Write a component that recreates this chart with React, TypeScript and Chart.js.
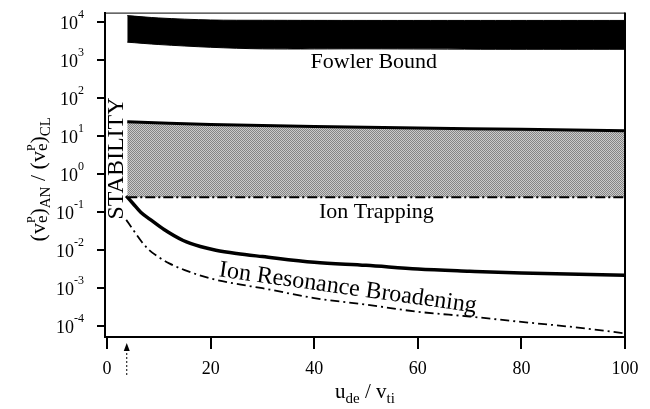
import React, { useEffect, useRef } from "react";
import { Chart, registerables } from "chart.js";

Chart.register(...registerables);

// ---- data ----
const fowlerX = [3.9, 10, 20, 30, 50, 75, 100];
const fowlerUpper = [15000, 13000, 11500, 11300, 11200, 11200, 11200];
const fowlerLower = [3000, 2600, 2200, 2000, 2000, 1950, 1950];

const trapX = [3.9, 20, 40, 60, 80, 100];
const trapUpper = [24, 20.5, 18, 16.5, 15.2, 14];
const trapLower = [0.25, 0.25, 0.25, 0.25, 0.25, 0.25];

const resX = [3.7, 5, 6.5, 8.3, 11, 14.7, 18, 21, 25, 30, 40, 50, 60, 70, 80, 100];
const resY = [0.27, 0.17, 0.1, 0.065, 0.035, 0.018, 0.0125, 0.01, 0.0082, 0.0068, 0.0048, 0.004, 0.0032, 0.0028, 0.0025, 0.0022];

const brX = [3.7, 5, 6.5, 8, 10, 12, 15, 20, 25, 30, 40, 50, 60, 70, 80, 90, 100];
const brY = [0.063, 0.035, 0.018, 0.0105, 0.0065, 0.0045, 0.003, 0.0018, 0.0013, 0.001, 0.00055, 0.00037, 0.00024, 0.00018, 0.00013, 0.000095, 0.000065];

const xTicks = [0, 20, 40, 60, 80, 100];
const yExps = [-4, -3, -2, -1, 0, 1, 2, 3, 4];
const stabilityX = 3.8;

const FONT = '"Liberation Serif", "Times New Roman", serif';

const pts = (xs: number[], ys: number[]) => xs.map((x, i) => ({ x, y: ys[i] }));

type Seg = { t: string; size: number; dy: number; noAdvance?: boolean };

function drawRich(ctx: CanvasRenderingContext2D, segs: Seg[], x: number, y: number) {
  let total = 0;
  for (const s of segs) {
    ctx.font = `${s.size}px ${FONT}`;
    if (!s.noAdvance) total += ctx.measureText(s.t).width;
  }
  let cx = x - total / 2;
  ctx.textAlign = "left";
  ctx.textBaseline = "alphabetic";
  for (const s of segs) {
    ctx.font = `${s.size}px ${FONT}`;
    ctx.fillText(s.t, cx, y + s.dy);
    if (!s.noAdvance) cx += ctx.measureText(s.t).width;
  }
}

const decorPlugin = {
  id: "decor",
  afterDraw(chart: any) {
    const ctx: CanvasRenderingContext2D = chart.ctx;
    const xs = chart.scales.x;
    const ys = chart.scales.y;
    const a = chart.chartArea;
    ctx.save();
    ctx.fillStyle = "#000";
    ctx.strokeStyle = "#000";

    // frame right and top
    ctx.lineWidth = 2;
    ctx.beginPath();
    ctx.moveTo(a.right, a.bottom + 1);
    ctx.lineTo(a.right, a.top);
    ctx.stroke();
    ctx.lineWidth = 1;
    ctx.beginPath();
    ctx.moveTo(a.left, a.top + 0.5);
    ctx.lineTo(a.right, a.top + 0.5);
    ctx.stroke();

    // y tick labels 10^n
    for (const e of yExps) {
      const py = ys.getPixelForValue(Math.pow(10, e));
      const exp = String(e);
      ctx.font = `12px ${FONT}`;
      const we = ctx.measureText(exp).width;
      ctx.font = `18px ${FONT}`;
      const wb = ctx.measureText("10").width;
      const right = a.left - 21;
      ctx.textAlign = "left";
      ctx.textBaseline = "alphabetic";
      ctx.fillText("10", right - we - wb, py + 7);
      ctx.font = `12px ${FONT}`;
      ctx.fillText(exp, right - we, py - 4);
    }

    // stability arrow (dotted)
    const ax = xs.getPixelForValue(stabilityX);
    ctx.lineWidth = 1;
    ctx.setLineDash([2, 2]);
    ctx.beginPath();
    ctx.moveTo(ax, a.bottom + 38);
    ctx.lineTo(ax, a.bottom + 10);
    ctx.stroke();
    ctx.setLineDash([]);
    ctx.beginPath();
    ctx.moveTo(ax, a.bottom + 6);
    ctx.lineTo(ax - 3, a.bottom + 14);
    ctx.lineTo(ax + 3, a.bottom + 14);
    ctx.closePath();
    ctx.fill();

    // labels
    ctx.font = `22px ${FONT}`;
    ctx.textAlign = "center";
    ctx.textBaseline = "middle";
    ctx.fillText("Fowler Bound", xs.getPixelForValue(51.5), ys.getPixelForValue(1000) + 2);
    ctx.fillText("Ion Trapping", xs.getPixelForValue(52), ys.getPixelForValue(0.1));

    ctx.save();
    ctx.translate(xs.getPixelForValue(46.5), ys.getPixelForValue(0.0012) + 3);
    ctx.rotate((8 * Math.PI) / 180);
    ctx.font = `24px ${FONT}`;
    ctx.fillText("Ion Resonance Broadening", 0, 0);
    ctx.restore();

    // STABILITY vertical
    ctx.save();
    ctx.translate(a.left + 12, ys.getPixelForValue(2.6));
    ctx.rotate(-Math.PI / 2);
    ctx.font = `24px ${FONT}`;
    ctx.textAlign = "center";
    ctx.textBaseline = "middle";
    ctx.fillText("STABILITY", 0, 0);
    ctx.restore();

    // x title
    drawRich(
      ctx,
      [
        { t: "u", size: 21, dy: 0 },
        { t: "de", size: 15, dy: 5 },
        { t: " / v", size: 21, dy: 0 },
        { t: "ti", size: 15, dy: 5 },
      ],
      (a.left + a.right) / 2,
      a.bottom + 61
    );

    // y title
    ctx.save();
    ctx.translate(45, ys.getPixelForValue(1) + 5);
    ctx.rotate(-Math.PI / 2);
    drawRich(
      ctx,
      [
        { t: "(v", size: 22, dy: 0 },
        { t: "P", size: 12, dy: -10, noAdvance: true },
        { t: "e", size: 17, dy: 2 },
        { t: ")", size: 22, dy: 0 },
        { t: "AN", size: 15, dy: 5 },
        { t: " / (v", size: 22, dy: 0 },
        { t: "P", size: 12, dy: -10, noAdvance: true },
        { t: "e", size: 17, dy: 2 },
        { t: ")", size: 22, dy: 0 },
        { t: "CL", size: 15, dy: 5 },
      ],
      0,
      0
    );
    ctx.restore();

    ctx.restore();
  },
};

function makePattern(): CanvasPattern | string {
  const c = document.createElement("canvas");
  c.width = 2;
  c.height = 2;
  const g = c.getContext("2d");
  if (!g) return "#aaaaaa";
  g.fillStyle = "#cbcbcb";
  g.fillRect(0, 0, 2, 2);
  g.fillStyle = "#858585";
  g.fillRect(0, 0, 1, 1);
  g.fillRect(1, 1, 1, 1);
  const p = g.createPattern(c, "repeat");
  return p || "#aaaaaa";
}

export default function App() {
  const ref = useRef<HTMLCanvasElement | null>(null);

  useEffect(() => {
    if (!ref.current) return;
    const pattern = makePattern();
    const chart = new Chart(ref.current, {
      type: "line",
      data: {
        datasets: [
          {
            data: pts(fowlerX, fowlerUpper),
            borderColor: "#000",
            borderWidth: 1,
            pointRadius: 0,
            fill: false,
            tension: 0.3,
          },
          {
            data: pts(fowlerX, fowlerLower),
            borderColor: "#000",
            borderWidth: 1,
            backgroundColor: "#000",
            pointRadius: 0,
            fill: "-1",
            tension: 0.3,
          },
          {
            data: pts(trapX, trapUpper),
            borderColor: "#000",
            borderWidth: 3,
            pointRadius: 0,
            fill: false,
            tension: 0.3,
          },
          {
            data: pts(trapX, trapLower),
            borderColor: "#000",
            borderWidth: 2,
            borderDash: [10, 3, 2, 3],
            backgroundColor: pattern as any,
            pointRadius: 0,
            fill: "-1",
          },
          {
            data: pts(resX, resY),
            borderColor: "#000",
            borderWidth: 3.5,
            pointRadius: 0,
            fill: false,
            cubicInterpolationMode: "monotone",
          },
          {
            data: pts(brX, brY),
            borderColor: "#000",
            borderWidth: 1.8,
            borderDash: [9, 4, 2, 4],
            pointRadius: 0,
            fill: false,
            cubicInterpolationMode: "monotone",
          },
        ],
      },
      options: {
        animation: false,
        responsive: false,
        devicePixelRatio: 1,
        layout: { padding: { top: 10, right: 25, left: 0, bottom: 0 } },
        plugins: {
          legend: { display: false },
          tooltip: { enabled: false },
        },
        scales: {
          x: {
            type: "linear",
            min: -0.4,
            max: 100,
            afterBuildTicks: (s: any) => {
              s.ticks = xTicks.map((v) => ({ value: v }));
            },
            afterFit: (s: any) => {
              s.height = 72;
            },
            ticks: {
              color: "#000",
              font: { family: FONT, size: 18 },
              padding: 9,
              maxRotation: 0,
            },
            grid: {
              drawOnChartArea: false,
              drawTicks: true,
              tickLength: 12,
              lineWidth: 2,
              color: "#000",
            },
            border: { display: true, color: "#000", width: 2 },
          },
          y: {
            type: "logarithmic",
            min: 5.2e-5,
            max: 1.8e4,
            afterBuildTicks: (s: any) => {
              s.ticks = yExps.map((e) => ({ value: Math.pow(10, e) }));
            },
            afterFit: (s: any) => {
              s.width = 105;
            },
            ticks: {
              color: "rgba(0,0,0,0)",
              font: { family: FONT, size: 16 },
              callback: () => "10",
            },
            grid: {
              drawOnChartArea: false,
              drawTicks: true,
              tickLength: 8,
              lineWidth: 2,
              color: "#000",
            },
            border: { display: true, color: "#000", width: 2 },
          },
        },
      },
      plugins: [decorPlugin],
    });
    return () => chart.destroy();
  }, []);

  return (
    <div style={{ position: "fixed", left: 0, top: 0, width: 650, height: 409, background: "#fff" }}>
      <canvas ref={ref} width={650} height={409} style={{ display: "block" }} />
    </div>
  );
}
